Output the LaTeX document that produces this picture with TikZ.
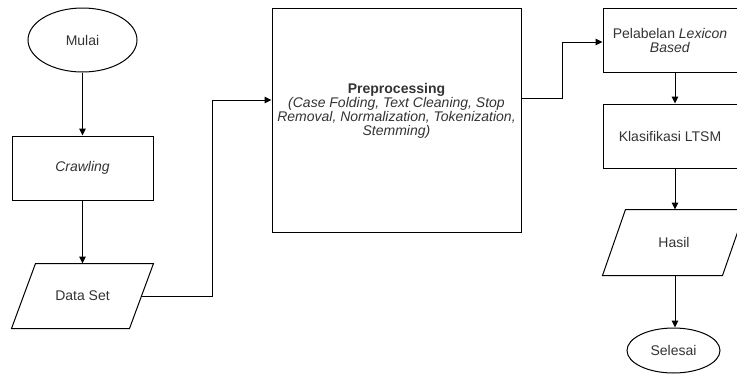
\documentclass[tikz,border=0pt]{standalone}
\usepackage{fontspec}
\setmainfont{Liberation Sans}
\usepackage{tikz}
\usetikzlibrary{positioning,arrows.meta,shapes.geometric}

\begin{document}
\begin{tikzpicture}[
  x=1pt, y=1pt,
  >={Triangle[length=7pt,width=6.5pt]},
  line width=1pt,
  font=\fontsize{14}{14}\selectfont,
  process/.style={draw, rectangle, minimum width=141pt, minimum height=64pt, text=black!80, align=center},
  terminal/.style={draw, ellipse, minimum width=109pt, minimum height=64pt, text=black!80},
  datanode/.style={rectangle, minimum width=141pt, minimum height=64pt, text=black!80},
  slantbox/.style={draw, line join=miter},
  flow/.style={->}
]
\useasboundingbox (0,0) rectangle (737,-378);

% Left column
\node[terminal] (mulai) at (82.5,-40) {Mulai};
\node[process] (crawling) at (82.5,-168) {\itshape Crawling};
\node[datanode] (dataset) at (82.5,-296) {Data Set};
\draw[slantbox] ([xshift=24pt]dataset.north west) -- (dataset.north east)
  -- ([xshift=-24pt]dataset.south east) -- (dataset.south west) -- cycle;

% Preprocessing
\node[process, minimum width=249pt, minimum height=224pt] (prep) at (396.5,-120) {};
\node[text=black!80, align=center] (preptext) at (396.5,-111) {%
  \textbf{Preprocessing}\\
  \itshape (Case Folding, Text Cleaning, Stop\\
  \itshape Removal, Normalization, Tokenization,\\
  \itshape Stemming)};

% Right column
\node[process, minimum width=134pt] (lexicon) at (670,-40) {Pelabelan \textit{Lexicon}\\\textit{Based}};
\node[process, minimum width=134pt] (klasifikasi) at (670,-136) {Klasifikasi LTSM};
\node[datanode, minimum width=142pt, minimum height=65pt] (hasil) at (674,-242.5) {Hasil};
\draw[slantbox] ([xshift=23pt]hasil.north west) -- (hasil.north east)
  -- ([xshift=-23pt]hasil.south east) -- (hasil.south west) -- cycle;
\node[terminal, minimum width=93pt, minimum height=45pt] (selesai) at (673.5,-350.5) {Selesai};

% Connectors
\draw[flow] (mulai) -- (crawling);
\draw[flow] (crawling) -- (dataset);
\draw[flow] ([xshift=-12pt]dataset.east) -- ++(71,0) |- ([yshift=20pt]prep.west);
\draw[flow] ([yshift=22pt]prep.east) -- ++(41,0) |- ([yshift=-2pt]lexicon.west);
\draw[flow] ([xshift=5pt]lexicon.south) -- ([xshift=5pt]klasifikasi.north);
\draw[flow] ([xshift=5pt]klasifikasi.south) -- ([xshift=1pt]hasil.north);
\draw[flow] ([xshift=1pt]hasil.south) -- ([xshift=1.5pt]selesai.north);

\end{tikzpicture}
\end{document}
